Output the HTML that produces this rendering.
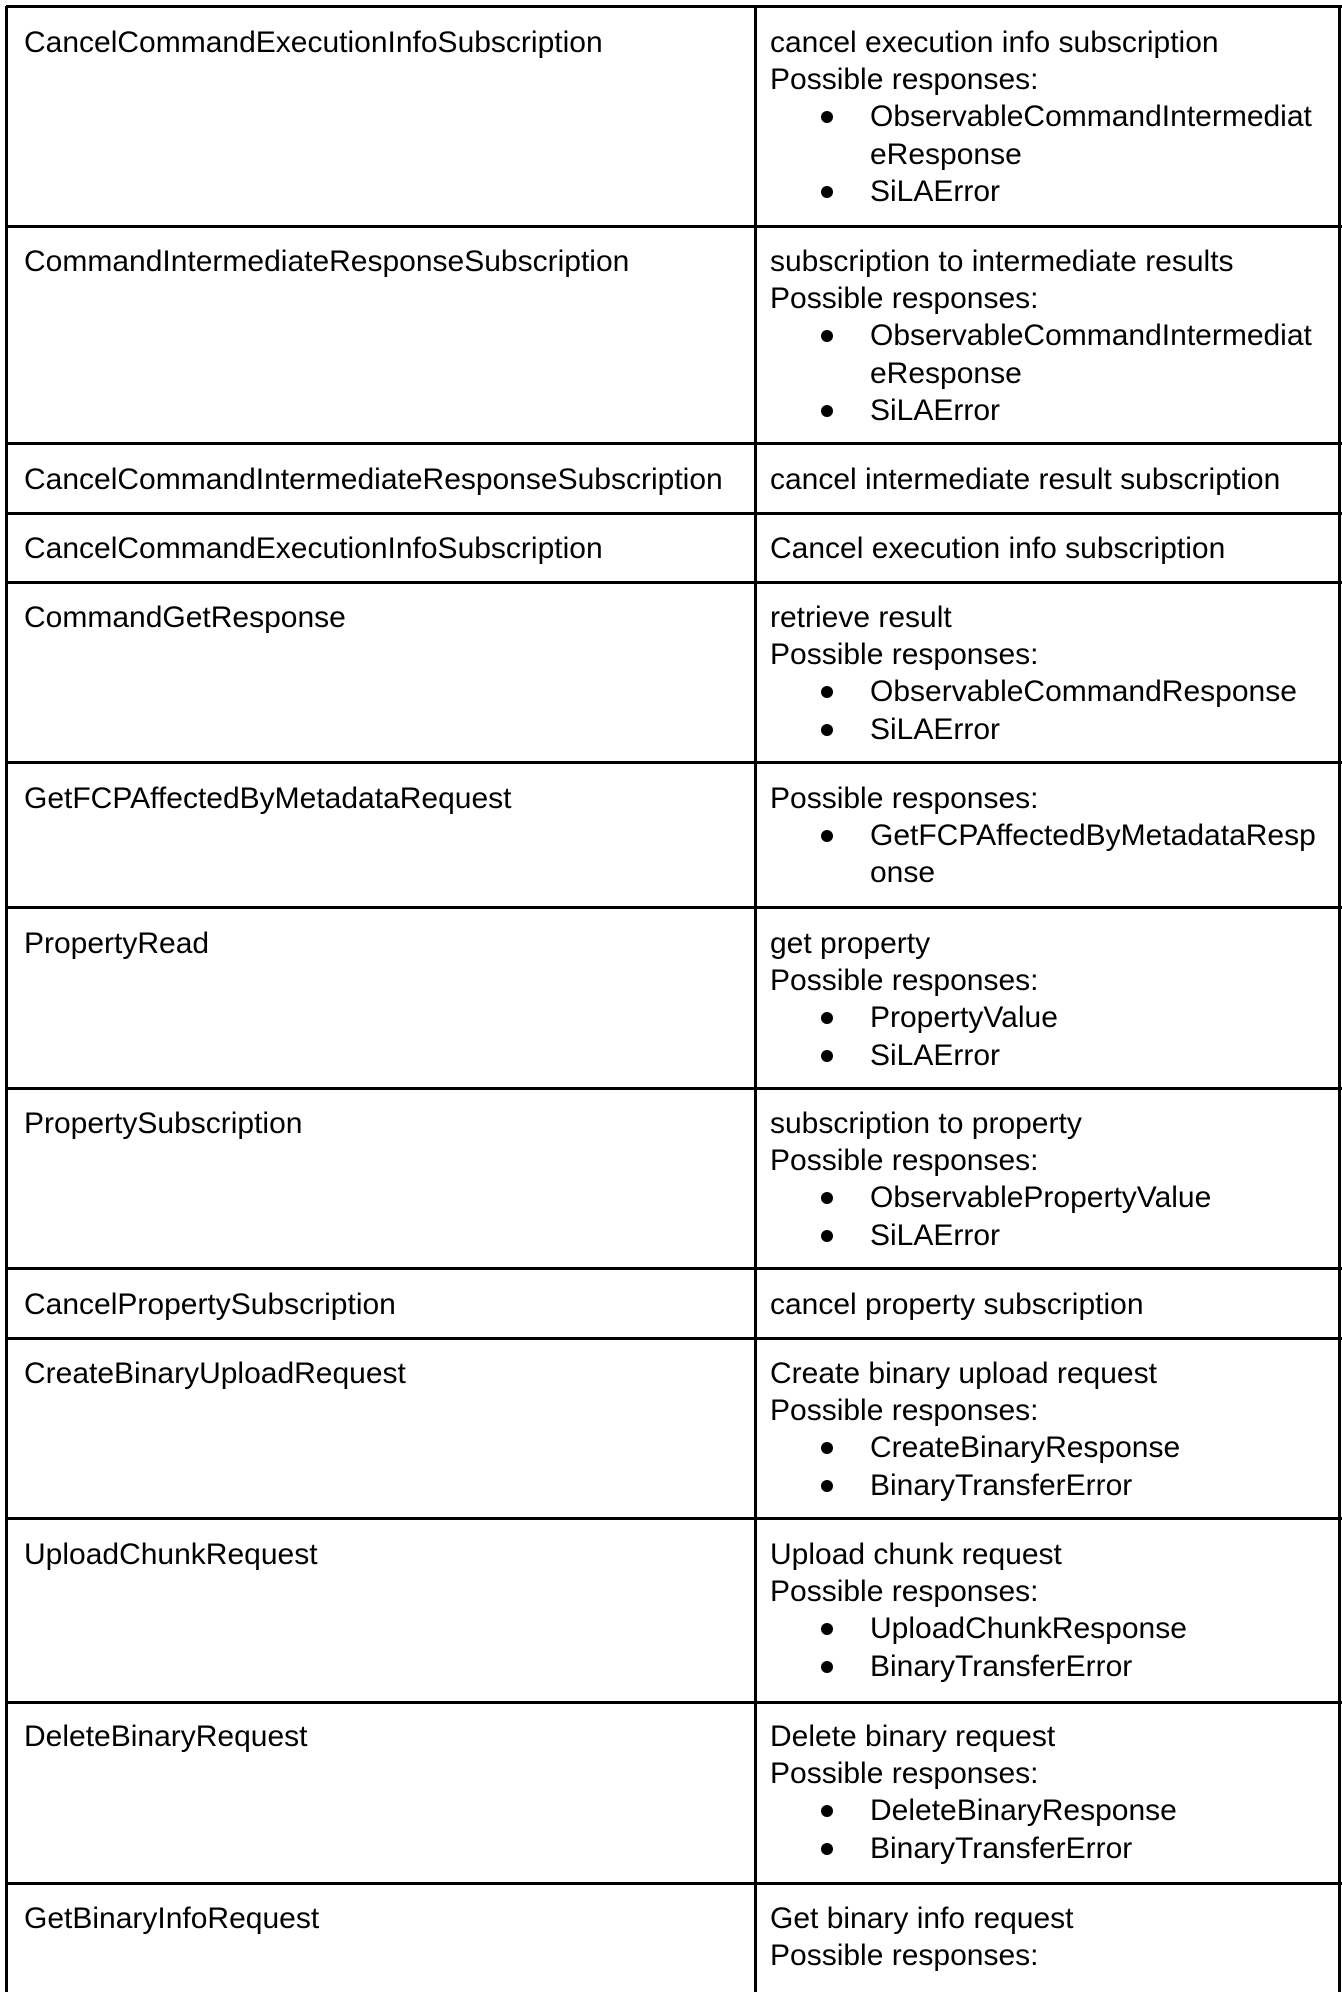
<!DOCTYPE html>
<html><head><meta charset="utf-8"><style>
body{margin:0;width:1342px;height:1986px;background:#fff;position:relative;overflow:hidden;font-family:"Liberation Sans",Arial,sans-serif;font-size:30px;line-height:37.2px;color:#000}
.h{position:absolute;left:6px;width:1336px;height:3px;background:#000}
.v{position:absolute;top:6px;width:3px;height:1986px;background:#000}
.t{position:absolute;white-space:nowrap}
.b{padding-left:100px;position:relative}
.b:before{content:"";position:absolute;left:51px;top:13px;width:12px;height:12px;border-radius:50%;background:#000}
.c{padding-left:100px}
</style></head><body>
<div class="v" style="left:5px"></div>
<div class="v" style="left:754px"></div>
<div class="v" style="left:1338px"></div>
<div class="h" style="top:5px"></div>
<div class="h" style="top:225px"></div>
<div class="h" style="top:442px"></div>
<div class="h" style="top:512px"></div>
<div class="h" style="top:581px"></div>
<div class="h" style="top:761px"></div>
<div class="h" style="top:906px"></div>
<div class="h" style="top:1087px"></div>
<div class="h" style="top:1267px"></div>
<div class="h" style="top:1337px"></div>
<div class="h" style="top:1517px"></div>
<div class="h" style="top:1701px"></div>
<div class="h" style="top:1882px"></div>

<div class="t" style="left:24px;top:24px">CancelCommandExecutionInfoSubscription</div>
<div class="t" style="left:770px;top:24px">cancel execution info subscription<br>Possible responses:<div class="b">ObservableCommandIntermediat</div><div class="c">eResponse</div><div class="b">SiLAError</div></div>

<div class="t" style="left:24px;top:243px">CommandIntermediateResponseSubscription</div>
<div class="t" style="left:770px;top:243px">subscription to intermediate results<br>Possible responses:<div class="b">ObservableCommandIntermediat</div><div class="c">eResponse</div><div class="b">SiLAError</div></div>

<div class="t" style="left:24px;top:461px">CancelCommandIntermediateResponseSubscription</div>
<div class="t" style="left:770px;top:461px">cancel intermediate result subscription</div>

<div class="t" style="left:24px;top:530px">CancelCommandExecutionInfoSubscription</div>
<div class="t" style="left:770px;top:530px">Cancel execution info subscription</div>

<div class="t" style="left:24px;top:599px">CommandGetResponse</div>
<div class="t" style="left:770px;top:599px">retrieve result<br>Possible responses:<div class="b">ObservableCommandResponse</div><div class="b">SiLAError</div></div>

<div class="t" style="left:24px;top:780px">GetFCPAffectedByMetadataRequest</div>
<div class="t" style="left:770px;top:780px">Possible responses:<div class="b">GetFCPAffectedByMetadataResp</div><div class="c">onse</div></div>

<div class="t" style="left:24px;top:925px">PropertyRead</div>
<div class="t" style="left:770px;top:925px">get property<br>Possible responses:<div class="b">PropertyValue</div><div class="b">SiLAError</div></div>

<div class="t" style="left:24px;top:1105px">PropertySubscription</div>
<div class="t" style="left:770px;top:1105px">subscription to property<br>Possible responses:<div class="b">ObservablePropertyValue</div><div class="b">SiLAError</div></div>

<div class="t" style="left:24px;top:1286px">CancelPropertySubscription</div>
<div class="t" style="left:770px;top:1286px">cancel property subscription</div>

<div class="t" style="left:24px;top:1355px">CreateBinaryUploadRequest</div>
<div class="t" style="left:770px;top:1355px">Create binary upload request<br>Possible responses:<div class="b">CreateBinaryResponse</div><div class="b">BinaryTransferError</div></div>

<div class="t" style="left:24px;top:1536px">UploadChunkRequest</div>
<div class="t" style="left:770px;top:1536px">Upload chunk request<br>Possible responses:<div class="b">UploadChunkResponse</div><div class="b">BinaryTransferError</div></div>

<div class="t" style="left:24px;top:1718px">DeleteBinaryRequest</div>
<div class="t" style="left:770px;top:1718px">Delete binary request<br>Possible responses:<div class="b">DeleteBinaryResponse</div><div class="b">BinaryTransferError</div></div>

<div class="t" style="left:24px;top:1900px">GetBinaryInfoRequest</div>
<div class="t" style="left:770px;top:1900px">Get binary info request<br>Possible responses:</div>
</body></html>
